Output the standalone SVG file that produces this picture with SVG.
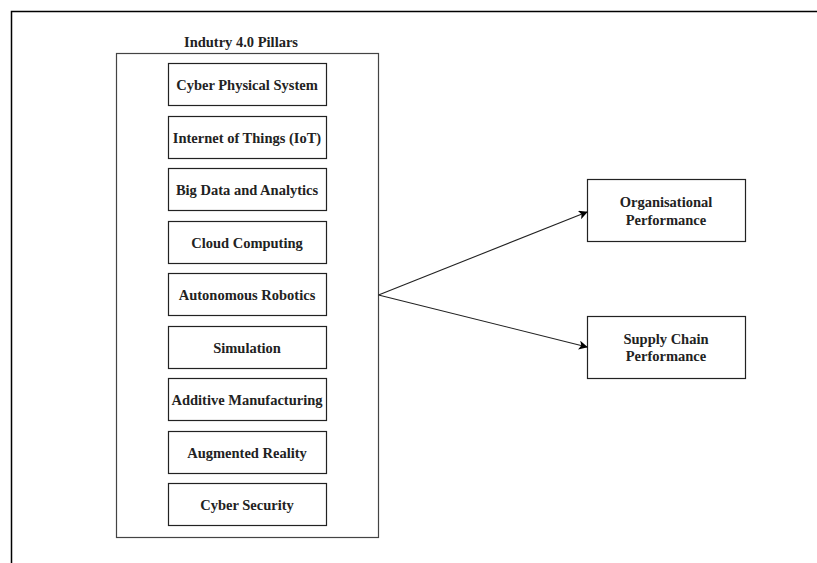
<svg xmlns="http://www.w3.org/2000/svg" width="817" height="563" viewBox="0 0 817 563">
<style>
.frame{fill:none;stroke:#000;stroke-width:1.5}
.box{fill:#fff;stroke:#222;stroke-width:1.2}
.outer{fill:#fff;stroke:#444;stroke-width:1.2}
.t{font-family:"Liberation Serif","Times New Roman",serif;font-weight:bold;font-size:14.5px;fill:#222;text-anchor:middle}
.edge{fill:none;stroke:#222;stroke-width:1.1}
</style>
<defs>
<marker id="arr" viewBox="0 0 10 10" refX="9" refY="5" markerWidth="9" markerHeight="9" markerUnits="userSpaceOnUse" orient="auto">
<path d="M0,0 L10,5 L0,10 L2.5,5 z" fill="#000"/>
</marker>
</defs>
<rect width="817" height="563" fill="#fff"/>
<path class="frame" d="M11.5,563 L11.5,11.5 L817,11.5"/>
<g id="pillars">
<rect class="outer" x="116.5" y="53.5" width="262" height="484"/>
<text class="t" x="241" y="47">Indutry 4.0 Pillars</text>
</g>
<g id="cps"><rect class="box" x="168.5" y="63.5" width="158" height="42"/><text class="t" x="247" y="89.5">Cyber Physical System</text></g>
<g id="iot"><rect class="box" x="168.5" y="116.5" width="158" height="42"/><text class="t" x="247" y="142.5">Internet of Things (IoT)</text></g>
<g id="bigdata"><rect class="box" x="168.5" y="168.5" width="158" height="42"/><text class="t" x="247" y="194.5">Big Data and Analytics</text></g>
<g id="cloud"><rect class="box" x="168.5" y="221.5" width="158" height="42"/><text class="t" x="247" y="247.5">Cloud Computing</text></g>
<g id="robotics"><rect class="box" x="168.5" y="273.5" width="158" height="42"/><text class="t" x="247" y="299.5">Autonomous Robotics</text></g>
<g id="simulation"><rect class="box" x="168.5" y="326.5" width="158" height="42"/><text class="t" x="247" y="352.5">Simulation</text></g>
<g id="additive"><rect class="box" x="168.5" y="378.5" width="158" height="42"/><text class="t" x="247" y="404.5">Additive Manufacturing</text></g>
<g id="ar"><rect class="box" x="168.5" y="431.5" width="158" height="42"/><text class="t" x="247" y="457.5">Augmented Reality</text></g>
<g id="security"><rect class="box" x="168.5" y="483.5" width="158" height="42"/><text class="t" x="247" y="509.5">Cyber Security</text></g>
<g id="org"><rect class="box" x="587.5" y="179.5" width="158" height="62"/><text class="t" x="666" y="207">Organisational</text><text class="t" x="666" y="225">Performance</text></g>
<g id="supply"><rect class="box" x="587.5" y="316.5" width="158" height="62"/><text class="t" x="666" y="344">Supply Chain</text><text class="t" x="666" y="361">Performance</text></g>
<g id="connectors">
<path class="edge" d="M378.5,295 L587,212" marker-end="url(#arr)"/>
<path class="edge" d="M378.5,295 L587,347" marker-end="url(#arr)"/>
</g>
</svg>
